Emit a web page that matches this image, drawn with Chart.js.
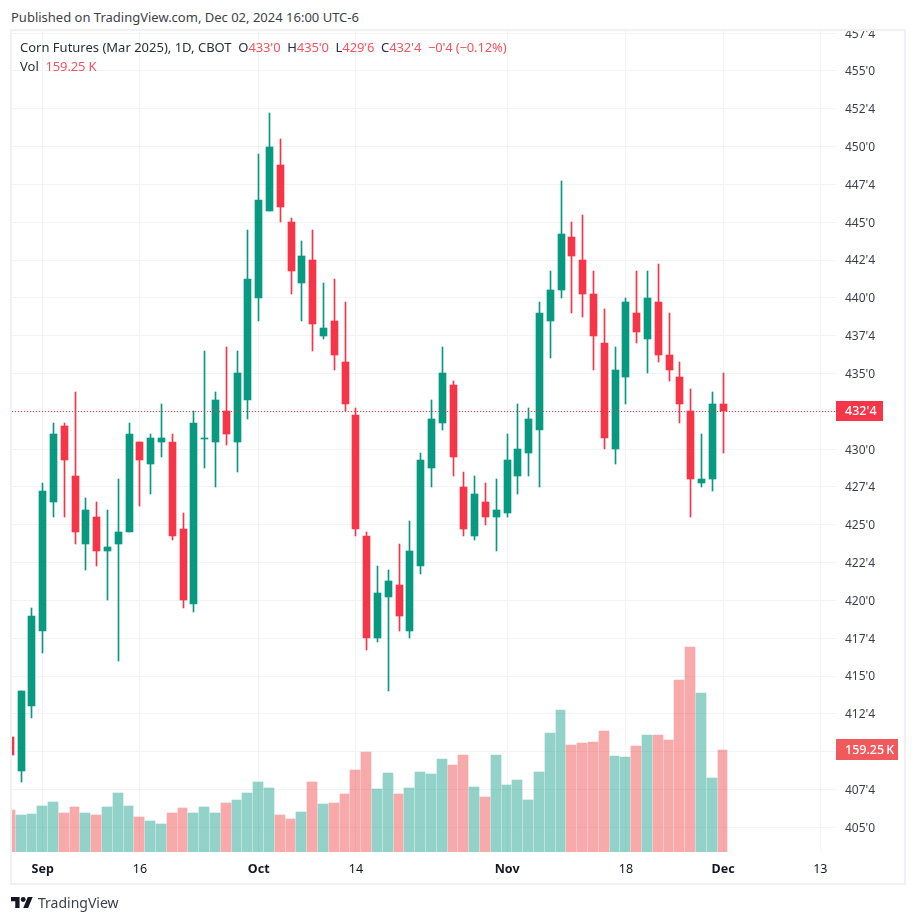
<!DOCTYPE html>
<html><head><meta charset="utf-8">
<script src="https://cdn.jsdelivr.net/npm/chart.js@4"></script>
<style>
html,body{margin:0;padding:0;background:#fff;width:916px;height:923px;overflow:hidden;font-family:"Noto Sans",sans-serif}
#frame{position:absolute;left:10px;top:29px;width:892px;height:852px;border:2px solid #f0f0f6;pointer-events:none}
#wrap{position:absolute;left:0;top:31px;width:916px;height:892px}
.t{position:absolute;white-space:pre;color:#2a2e39}
.r{color:#f7525f;letter-spacing:-.15px}
</style></head><body>
<div id="wrap"><canvas id="c" width="916" height="892"></canvas></div>
<div id="frame"></div>
<div class="t" style="left:11px;top:8px;font-size:13px;line-height:18px;color:#3c3f47" id="pub">Published on TradingView.com, Dec 02, 2024 16:00 UTC-6</div>
<div class="t" style="left:20px;top:38px;font-size:13px;line-height:18px" id="leg1">Corn Futures (Mar 2025), 1D, CBOT  O<span class="r">433'0</span>  H<span class="r">435'0</span>  L<span class="r">429'6</span>  C<span class="r">432'4</span>  <span class="r">−0'4 (−0.12%)</span></div>
<div class="t" style="left:20px;top:57px;font-size:13px;line-height:18px" id="leg2">Vol  <span class="r">159.25 K</span></div>
<svg style="position:absolute;left:11px;top:897px" width="22" height="11" viewBox="0 4 36 18"><path fill="#131722" d="M14 22H7V11H0V4h14v18zM28 22h-8l7.5-18h8L28 22z"/><circle fill="#131722" cx="20" cy="8" r="4"/></svg>
<div class="t" style="left:38px;top:893px;font-size:14px;line-height:20px;color:#3c3f47">TradingView</div>
<script>
const dates = ["Aug 28","Aug 29","Aug 30","Sep 3","Sep 4","Sep 5","Sep 6","Sep 9","Sep 10","Sep 11","Sep 12","Sep 13","Sep 16","Sep 17","Sep 18","Sep 19","Sep 20","Sep 23","Sep 24","Sep 25","Sep 26","Sep 27","Sep 30","Oct 1","Oct 2","Oct 3","Oct 4","Oct 7","Oct 8","Oct 9","Oct 10","Oct 11","Oct 14","Oct 15","Oct 16","Oct 17","Oct 18","Oct 21","Oct 22","Oct 23","Oct 24","Oct 25","Oct 28","Oct 29","Oct 30","Oct 31","Nov 1","Nov 4","Nov 5","Nov 6","Nov 7","Nov 8","Nov 11","Nov 12","Nov 13","Nov 14","Nov 15","Nov 18","Nov 19","Nov 20","Nov 21","Nov 22","Nov 25","Nov 26","Nov 27","Nov 29","Dec 2"];
const opens = [411,408.75,413,418,426.5,431.5,428.25,423.75,425.5,423.25,423.75,424.5,430.5,429,430.5,430.5,424.75,419.75,430.75,430.5,432.5,430.5,433.25,440,445.75,448.75,445,441,442.5,437.5,438.5,435.75,432.25,424.25,417.5,420.25,421,418,422.25,428.75,431.75,434.25,427.5,424.25,426.5,425.5,425.75,428.25,429.75,431.25,438.5,440.5,444,442.5,440.25,437,430,434.75,439,437.25,439.75,436.25,434.75,432.5,427.75,428,433];
const highs = [411,414,419.5,427.75,431.75,431.75,433.75,426.75,426.5,426,428,431.75,430.5,431,433,431,425.75,432.5,436.5,433.75,436.75,436.5,444.5,449.5,452.25,450.5,445.25,443.75,444.5,441,441.25,439.75,432.75,424.5,422.25,422,423.75,425.25,429.75,433.25,436.75,434.5,428.5,428.25,427.75,428,431,433,432.75,439.75,441.75,447.75,445,445.5,441.75,439.25,436.75,440,441.75,441.75,442.25,439,435.75,434,431,433.75,435];
const lows = [409.75,408,412.25,416.5,425.5,425.5,423.75,422,422.25,420,416,424.5,426.25,427,429.5,424,419.5,419.25,428.75,427.5,430.25,428.5,432,438.5,445.75,445,440.25,438.5,436.5,437.25,435.25,432.5,424.25,416.75,417.25,414,418,417.5,421.75,427.5,431.25,428.25,424.25,424,425,423.25,425.5,427,428.25,427.5,436,440,439,438.75,435.25,430,429,433,437,435,435.75,434.5,431.75,425.5,427.5,427.25,429.75];
const closes = [409.75,414,419,427.25,431,429.25,424.5,426,423.25,423.5,424.5,431,429.25,430.75,430.75,424.25,420,431.75,430.75,433.25,431,435,441.25,446.5,450,446,441.75,442.75,438.25,438,436.25,433,424.75,417.5,420.5,421.25,419,423.25,429.25,432,435,429.5,424.75,427,425.5,426,429.25,430,432,439,440.5,444.25,442.75,440.25,437.5,430.75,435.25,439.75,437.75,440,436.25,435.25,433,428,428,433,432.5];
const volumes = [65.6,57.8,59.3,71.8,78,60.9,70.2,60.9,57.8,70.2,92.1,71.8,54.6,48.4,43.7,60.9,68.7,60.9,70.2,60.9,76.5,81.2,92.1,109.3,99.9,57.8,51.5,62.4,109.3,74.9,76.5,90.5,128,156.1,98.3,123.3,90.5,99.9,124.9,121.8,145.2,135.8,151.4,101.5,85.9,151.4,104.6,112.4,81.2,124.9,185.8,221.7,167,170.1,171.7,188.9,149.9,148.3,165.5,182.6,182.6,174.8,268.5,320,248.2,115.5,159.25];
const priceTicks = [405,407.5,410,412.5,415,417.5,420,422.5,425,427.5,430,432.5,435,437.5,440,442.5,445,447.5,450,452.5,455,457.5];
const timeTickIndex = [3,12,23,32,46,57,66,75];
const timeTickLabels = ["Sep","16","Oct","14","Nov","18","Dec","13"];
const boldTicks = ["Sep","Oct","Nov","Dec"];
const lastClose = 432.5, lastVolume = 159.25;

const UP="#089981", DOWN="#f43648", UPV="rgba(8,153,129,.44)", DOWNV="rgba(240,60,60,.44)";
const FONT='"Noto Sans", sans-serif';
const xs = dates.map((d,i)=>i);
const isUp = xs.map(i=>closes[i]>=opens[i]);
const xMin=0.1574, xMax=76.454;

function fmtPrice(p){const w=Math.floor(p);return w+"'"+Math.round((p-w)*8);}

const snap={id:'snap',afterDatasetsUpdate(chart){
  const sx=chart.scales.x, step=Math.abs(sx.getPixelForValue(1)-sx.getPixelForValue(0));
  chart.data.datasets.forEach((ds,k)=>{
    const m=chart.getDatasetMeta(k);
    m.data.forEach(el=>{
      if(ds.snapKind==='line'){el.y=Math.floor(el.y)+.5;return;}
      if(ds.snapKind==='vol'){
        const L=Math.round(el.x-step/2),R=Math.round(el.x+step/2)-1;
        el.x=(L+R)/2;el.width=R-L;
      } else { el.x=Math.floor(el.x)+.5; }
      let a=Math.round(Math.min(el.y,el.base)),b=Math.round(Math.max(el.y,el.base));
      if(a===b)b=a+1;
      el.y=a;el.base=b;el.height=b-a;
    });
  });
}};
const tags={id:'tags',afterDraw(chart){
  const {ctx,scales}=chart;
  const box=(y,x0,w,h,col,txt,font)=>{
    ctx.save();ctx.fillStyle=col;ctx.fillRect(x0,Math.round(y-h/2),w,h);
    ctx.fillStyle="#fff";ctx.font=font;ctx.textBaseline="middle";ctx.textAlign="left";
    ctx.fillText(txt,x0+9,y+.5);ctx.restore();
  };
  box(scales.y.getPixelForValue(lastClose),836,47,20,"#f43648",fmtPrice(lastClose),'500 12.5px '+FONT);
  box(scales.vol.getPixelForValue(lastVolume),836,62,21,"#f05a5c",lastVolume+"\u2009K",'500 12.5px '+FONT);
}};
const noPad=s=>{s.paddingTop=0;s.paddingBottom=0;s.paddingLeft=0;s.paddingRight=0;};

new Chart(document.getElementById('c'),{
  type:'bar',
  data:{datasets:[
    {label:'Close',type:'line',snapKind:'line',yAxisID:'y',order:0,data:[{x:xMin,y:lastClose},{x:xMax,y:lastClose}],borderColor:"#f23645",borderWidth:1,borderDash:[1,2],pointRadius:0,fill:false},
    {label:'Body',snapKind:'body',yAxisID:'y',order:1,barThickness:7,data:xs.map(i=>({x:i,y:[opens[i],closes[i]]})),backgroundColor:xs.map(i=>isUp[i]?UP:DOWN)},
    {label:'Wick',snapKind:'wick',yAxisID:'y',order:2,barThickness:1,data:xs.map(i=>({x:i,y:[lows[i],highs[i]]})),backgroundColor:xs.map(i=>isUp[i]?UP:DOWN)},
    {label:'Vol',snapKind:'vol',yAxisID:'vol',order:3,barThickness:10,data:xs.map(i=>({x:i,y:volumes[i]})),backgroundColor:xs.map(i=>isUp[i]?UPV:DOWNV)}
  ]},
  options:{
    responsive:false,animation:false,events:[],
    layout:{autoPadding:false,padding:{left:12,right:12,top:0,bottom:40}},
    datasets:{bar:{grouped:false}},
    plugins:{legend:{display:false},tooltip:{enabled:false},title:{display:false}},
    scales:{
      x:{type:'linear',offset:false,min:xMin,max:xMax,bounds:'data',
        grid:{offset:false,color:"#f2f3f5",lineWidth:1,drawTicks:false},border:{display:false},
        afterBuildTicks:s=>{s.ticks=timeTickIndex.map(v=>({value:v}));},
        afterFit:s=>{s.height=31;noPad(s);},
        ticks:{autoSkip:false,maxRotation:0,padding:10,color:"#131722",
          callback:(v)=>timeTickLabels[timeTickIndex.indexOf(v)],
          font:c=>({family:FONT,size:12.5,weight:boldTicks.includes(c.tick&&timeTickLabels[timeTickIndex.indexOf(c.tick.value)])?'bold':'normal'})}},
      y:{type:'linear',position:'right',min:403.367,max:457.64,bounds:'data',
        grid:{color:"#f2f3f5",lineWidth:1,drawTicks:false},border:{display:false},
        afterBuildTicks:s=>{s.ticks=priceTicks.map(v=>({value:v}));},
        afterFit:s=>{s.width=68;noPad(s);},
        ticks:{autoSkip:false,padding:9,labelOffset:1,color:"#3c3f47",font:{family:FONT,size:12},callback:v=>fmtPrice(v)}},
      vol:{type:'linear',display:false,min:0,max:1281.6,bounds:'data',grid:{display:false}}
    }
  },
  plugins:[snap,tags]
});
</script>
</body></html>
